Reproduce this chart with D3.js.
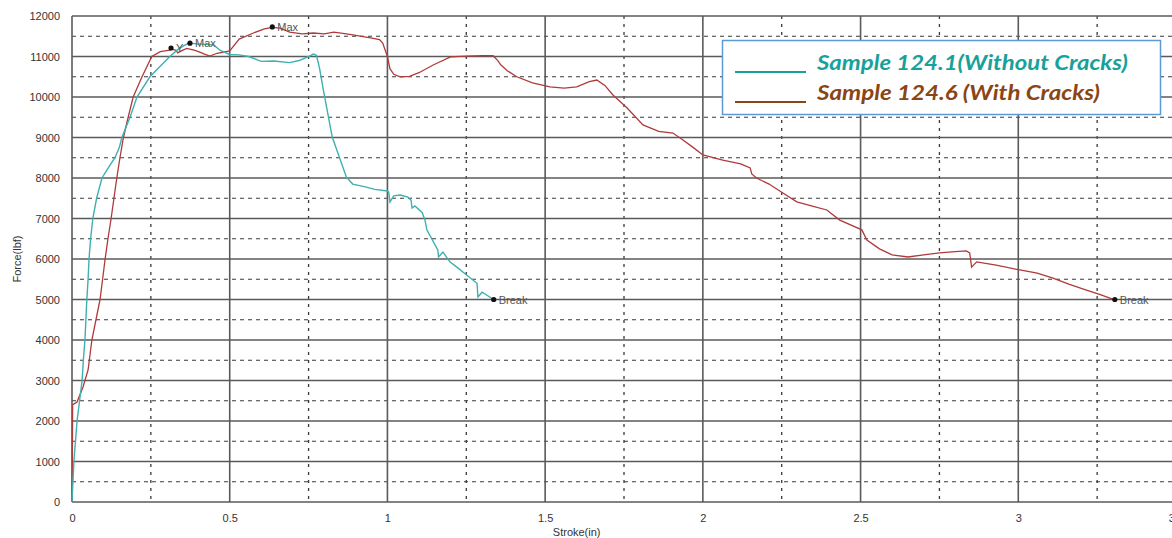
<!DOCTYPE html>
<html>
<head>
<meta charset="utf-8">
<script src="https://cdn.jsdelivr.net/npm/d3@7"></script>
<style>
  body { margin: 0; background: #fff; }
  svg { display: block; }
</style>
</head>
<body>
<svg id="chart" width="1172" height="538"></svg>
<script>
// Sample 124.1 (without cracks)
const strokeA = [0, 0.003, 0.006, 0.011, 0.016, 0.024, 0.032, 0.036, 0.041, 0.044, 0.047, 0.051, 0.054, 0.059, 0.066, 0.078, 0.095, 0.115, 0.136, 0.15, 0.158, 0.184, 0.206, 0.247, 0.31, 0.34, 0.365, 0.374, 0.40, 0.43, 0.45, 0.47, 0.5, 0.53, 0.56, 0.6, 0.64, 0.69, 0.72, 0.75, 0.765, 0.775, 0.785, 0.797, 0.825, 0.87, 0.89, 0.93, 0.96, 1.0, 1.004, 1.008, 1.02, 1.04, 1.065, 1.075, 1.078, 1.087, 1.11, 1.119, 1.125, 1.16, 1.162, 1.176, 1.198, 1.22, 1.252, 1.284, 1.287, 1.3, 1.337];
const forceA = [0, 500, 1000, 1500, 2000, 2500, 3000, 3500, 4000, 4500, 5000, 5500, 6000, 6500, 7000, 7500, 8000, 8250, 8500, 8750, 9000, 9500, 10000, 10500, 11000, 11200, 11310, 11330, 11310, 11300, 11280, 11150, 11050, 11040, 11000, 10880, 10890, 10850, 10900, 11000, 11060, 11030, 10700, 10170, 9010, 8020, 7850, 7780, 7720, 7680, 7650, 7410, 7560, 7580, 7530, 7450, 7260, 7310, 7150, 6960, 6720, 6220, 6050, 6170, 5930, 5800, 5600, 5400, 5060, 5180, 5000];

// Sample 124.6 (with cracks)
const strokeB = [0, 0.001, 0.002, 0.008, 0.016, 0.035, 0.051, 0.063, 0.076, 0.089, 0.097, 0.105, 0.114, 0.124, 0.133, 0.142, 0.152, 0.163, 0.178, 0.194, 0.222, 0.253, 0.28, 0.31, 0.317, 0.33, 0.335, 0.35, 0.364, 0.39, 0.405, 0.42, 0.437, 0.46, 0.5, 0.53, 0.575, 0.61, 0.635, 0.66, 0.69, 0.73, 0.765, 0.8, 0.83, 0.87, 0.9, 0.955, 0.975, 0.985, 1.0, 1.008, 1.02, 1.04, 1.07, 1.1, 1.145, 1.2, 1.25, 1.3, 1.335, 1.35, 1.36, 1.38, 1.41, 1.46, 1.515, 1.56, 1.6, 1.64, 1.664, 1.69, 1.715, 1.76, 1.81, 1.86, 1.905, 1.937, 1.97, 2.0, 2.063, 2.12, 2.15, 2.155, 2.17, 2.21, 2.25, 2.298, 2.35, 2.393, 2.434, 2.504, 2.52, 2.56, 2.6, 2.65, 2.7, 2.75, 2.8, 2.835, 2.846, 2.852, 2.868, 2.93, 3.005, 3.06, 3.11, 3.16, 3.216, 3.26, 3.306];
const forceB = [0, 1000, 2400, 2430, 2470, 2840, 3260, 4000, 4500, 5000, 5500, 6000, 6500, 7000, 7500, 8000, 8500, 9000, 9500, 10000, 10500, 11000, 11120, 11160, 11180, 11150, 11090, 11150, 11200, 11150, 11110, 11060, 11010, 11080, 11140, 11430, 11580, 11680, 11720, 11700, 11600, 11560, 11580, 11560, 11600, 11560, 11520, 11450, 11420, 11330, 11000, 10700, 10560, 10500, 10510, 10600, 10790, 10990, 11010, 11020, 11020, 10900, 10790, 10650, 10500, 10350, 10250, 10220, 10250, 10380, 10420, 10280, 10050, 9730, 9310, 9150, 9110, 8940, 8750, 8570, 8440, 8350, 8250, 8100, 8000, 7850, 7650, 7410, 7300, 7210, 6960, 6720, 6470, 6250, 6100, 6050, 6100, 6150, 6180, 6200, 6150, 5800, 5930, 5850, 5730, 5650, 5530, 5380, 5230, 5120, 4990];

// marked points (yield, max, break)
const markStroke = [0.314, 0.374, 0.635, 1.337, 3.306];
const markForce = [11210, 11330, 11730, 5000, 5000];
const markLabel = ['Y', 'Max', 'Max', 'Break', 'Break'];

// axes ticks
const xTicks = [0, 0.5, 1, 1.5, 2, 2.5, 3, 3.5];
const xMinor = [0.25, 0.75, 1.25, 1.75, 2.25, 2.75, 3.25];
const yTicks = [0, 1000, 2000, 3000, 4000, 5000, 6000, 7000, 8000, 9000, 10000, 11000, 12000];
const yMinor = [500, 1500, 2500, 3500, 4500, 5500, 6500, 7500, 8500, 9500, 10500, 11500];

const legendNames = ['Sample 124.1(Without Cracks)', 'Sample 124.6 (With Cracks)'];

const margin = { top: 16, left: 72 };
const innerwidth = 1104;
const innerheight = 486;
const svg = d3.select('#chart');
const font = '"Liberation Sans", Arial, sans-serif';

let xScale = d3.scaleLinear().domain([0, 3.5]).range([0, innerwidth]);
let yScale = d3.scaleLinear().domain([0, 12000]).range([innerheight, 0]);

let canvas = svg.append('g')
    .attr('transform', `translate(${margin.left},${margin.top})`);

// dashed grid
canvas.selectAll('.hMinor')
    .data(yMinor)
    .enter()
    .append('line')
    .attr('x1', 0).attr('x2', innerwidth)
    .attr('y1', d => yScale(d)).attr('y2', d => yScale(d))
    .attr('stroke', '#3a3a3a')
    .attr('stroke-width', 1.1)
    .attr('stroke-dasharray', '4,4');

canvas.selectAll('.vMinor')
    .data(xMinor)
    .enter()
    .append('line')
    .attr('x1', d => xScale(d)).attr('x2', d => xScale(d))
    .attr('y1', 0).attr('y2', innerheight)
    .attr('stroke', '#3a3a3a')
    .attr('stroke-width', 1.3)
    .attr('stroke-dasharray', '3,5');

// solid grid
canvas.selectAll('.hMajor')
    .data(yTicks)
    .enter()
    .append('line')
    .attr('x1', 0).attr('x2', innerwidth)
    .attr('y1', d => yScale(d)).attr('y2', d => yScale(d))
    .attr('stroke', '#5a5a5a')
    .attr('stroke-width', 1.6);

canvas.selectAll('.vMajor')
    .data(xTicks)
    .enter()
    .append('line')
    .attr('x1', d => xScale(d)).attr('x2', d => xScale(d))
    .attr('y1', 0).attr('y2', innerheight)
    .attr('stroke', '#5a5a5a')
    .attr('stroke-width', 1.6);

// axes (labels only)
let xAxis = d3.axisBottom(xScale).tickValues(xTicks).tickSize(0).tickPadding(12).tickFormat(d3.format('~g'));
let yAxis = d3.axisLeft(yScale).tickValues(yTicks).tickSize(0).tickPadding(12).tickFormat(d3.format('d'));

let xAxisGroup = canvas.append('g')
    .attr('transform', `translate(0,${innerheight})`)
    .call(xAxis);
let yAxisGroup = canvas.append('g')
    .call(yAxis);

[xAxisGroup, yAxisGroup].forEach(g => {
    g.select('.domain').remove();
    g.selectAll('text')
        .attr('font-family', font)
        .attr('font-size', 11)
        .attr('fill', '#333');
});

canvas.append('text')
    .text('Stroke(in)')
    .attr('x', xScale(1.6))
    .attr('y', innerheight + 34)
    .attr('text-anchor', 'middle')
    .attr('font-family', font)
    .attr('font-size', 11)
    .attr('fill', '#333');

canvas.append('text')
    .text('Force(lbf)')
    .attr('transform', `translate(-51,${yScale(6000)}) rotate(-90)`)
    .attr('text-anchor', 'middle')
    .attr('font-family', font)
    .attr('font-size', 11)
    .attr('fill', '#333');

// curves
let line = d3.line()
    .x(d => xScale(d[0]))
    .y(d => yScale(d[1]));

canvas.append('path')
    .datum(strokeB.map((s, i) => [s, forceB[i]]))
    .attr('d', line)
    .attr('fill', 'none')
    .attr('stroke', '#b03a3a')
    .attr('stroke-width', 1.3);

canvas.append('path')
    .datum(strokeA.map((s, i) => [s, forceA[i]]))
    .attr('d', line)
    .attr('fill', 'none')
    .attr('stroke', '#3fb0b0')
    .attr('stroke-width', 1.4);

// markers
canvas.selectAll('.mark')
    .data(markStroke)
    .enter()
    .append('circle')
    .attr('cx', d => xScale(d))
    .attr('cy', (d, i) => yScale(markForce[i]))
    .attr('r', 2.6)
    .attr('fill', '#111');

canvas.selectAll('.markText')
    .data(markStroke)
    .enter()
    .append('text')
    .text((d, i) => markLabel[i])
    .attr('x', d => xScale(d) + 5)
    .attr('y', (d, i) => yScale(markForce[i]) + 4)
    .attr('font-family', font)
    .attr('font-size', 11)
    .attr('fill', '#555');

// legend box
let legend = svg.append('g');
legend.append('rect')
    .attr('x', 722.5).attr('y', 40.5)
    .attr('width', 438).attr('height', 74)
    .attr('fill', '#fff')
    .attr('stroke', '#5b9bd5')
    .attr('stroke-width', 1.5);

const legendColors = ['#17a19b', '#8a4514'];
legendNames.forEach((name, i) => {
    let y = 72 + i * 30;
    legend.append('line')
        .attr('x1', 735).attr('x2', 806)
        .attr('y1', y).attr('y2', y)
        .attr('stroke', legendColors[i])
        .attr('stroke-width', 2);
    legend.append('text')
        .text(name)
        .attr('x', 817)
        .attr('y', y - 2)
        .attr('font-family', 'Lato, "Open Sans", sans-serif')
        .attr('font-style', 'italic')
        .attr('font-weight', 'bold')
        .attr('font-size', 20)
        .attr('fill', legendColors[i])
        .attr('textLength', i === 0 ? 311 : 283)
        .attr('lengthAdjust', 'spacingAndGlyphs');
});
</script>
</body>
</html>
